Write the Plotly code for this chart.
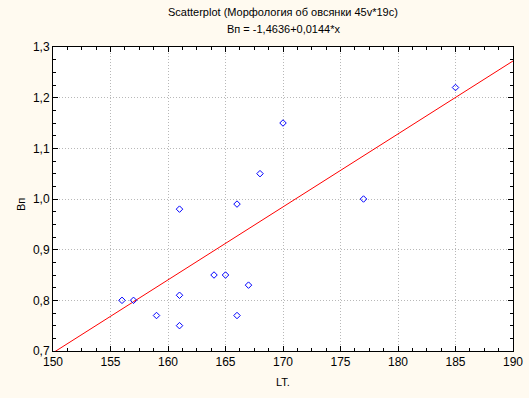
import plotly.graph_objects as go

# Data
lt = [156, 157, 159, 161, 161, 161, 164, 165, 166, 166, 167, 168, 170, 177, 185]
bn = [0.80, 0.80, 0.77, 0.98, 0.81, 0.75, 0.85, 0.85, 0.99, 0.77, 0.83, 1.05, 1.15, 1.00, 1.22]

# Regression coefficients from the title
intercept = -1.4636
slope = 0.0144
fit_x = [150, 190]
fit_y = [intercept + slope * v for v in fit_x]

x_ticks = [150, 155, 160, 165, 170, 175, 180, 185, 190]
y_ticks = [0.7, 0.8, 0.9, 1.0, 1.1, 1.2, 1.3]
y_tick_text = ["0,7", "0,8", "0,9", "1,0", "1,1", "1,2", "1,3"]

font_family = "Liberation Sans, Arial, sans-serif"

fig = go.Figure()
fig.add_trace(go.Scatter(
    x=fit_x, y=fit_y, mode="lines",
    line=dict(color="#FF0000", width=1), hoverinfo="skip", showlegend=False))
fig.add_trace(go.Scatter(
    x=lt, y=bn, mode="markers",
    marker=dict(symbol="diamond-open", size=5, color="#0000FF", line=dict(width=1, color="#0000FF")),
    showlegend=False))

axis_common = dict(
    showline=True, linecolor="black", linewidth=1, mirror="ticks",
    ticks="inside", ticklen=5, tickcolor="black",
    showgrid=True, gridcolor="#B8B8B8", griddash="1px,2px", gridwidth=1,
    zeroline=False, automargin=False,
    tickfont=dict(family=font_family, size=12, color="black"),
)

fig.update_xaxes(
    range=[150, 190], tickvals=x_ticks, ticktext=[str(v) for v in x_ticks],
    minor=dict(dtick=1.25, tick0=150, ticks="inside", ticklen=3, tickcolor="black", showgrid=False),
    **axis_common)
fig.update_yaxes(
    range=[0.7, 1.3], tickvals=y_ticks, ticktext=y_tick_text,
    minor=dict(dtick=0.025, tick0=0.7, ticks="inside", ticklen=3, tickcolor="black", showgrid=False),
    **axis_common)

fig.update_layout(
    width=529, height=398,
    margin=dict(l=53, r=16, t=47, b=47),
    paper_bgcolor="#FFFAF0", plot_bgcolor="white",
    font=dict(family=font_family, size=12, color="black"),
    annotations=[
        dict(text="Scatterplot (Морфология об овсянки 45v*19c)", x=0.5, y=1.0, xref="paper", yref="paper",
             xanchor="center", yanchor="bottom", yshift=27, showarrow=False,
             font=dict(family=font_family, size=11, color="black")),
        dict(text="Bп = -1,4636+0,0144*x", x=0.5, y=1.0, xref="paper", yref="paper",
             xanchor="center", yanchor="bottom", yshift=10, showarrow=False,
             font=dict(family=font_family, size=11, color="black")),
        dict(text="LT.", x=0.5, y=0, xref="paper", yref="paper",
             xanchor="center", yanchor="top", yshift=-23, showarrow=False,
             font=dict(family=font_family, size=11, color="black")),
        dict(text="Bп", x=0, y=0.5, xref="paper", yref="paper", textangle=-90,
             xanchor="right", yanchor="middle", xshift=-24, yshift=-6, showarrow=False,
             font=dict(family=font_family, size=11, color="black")),
    ],
)

fig.write_html(
    "out.html",
    config={"displayModeBar": False},
    post_script="document.body.style.margin='0';document.body.style.background='#FFFAF0';document.body.style.overflow='hidden';",
)
